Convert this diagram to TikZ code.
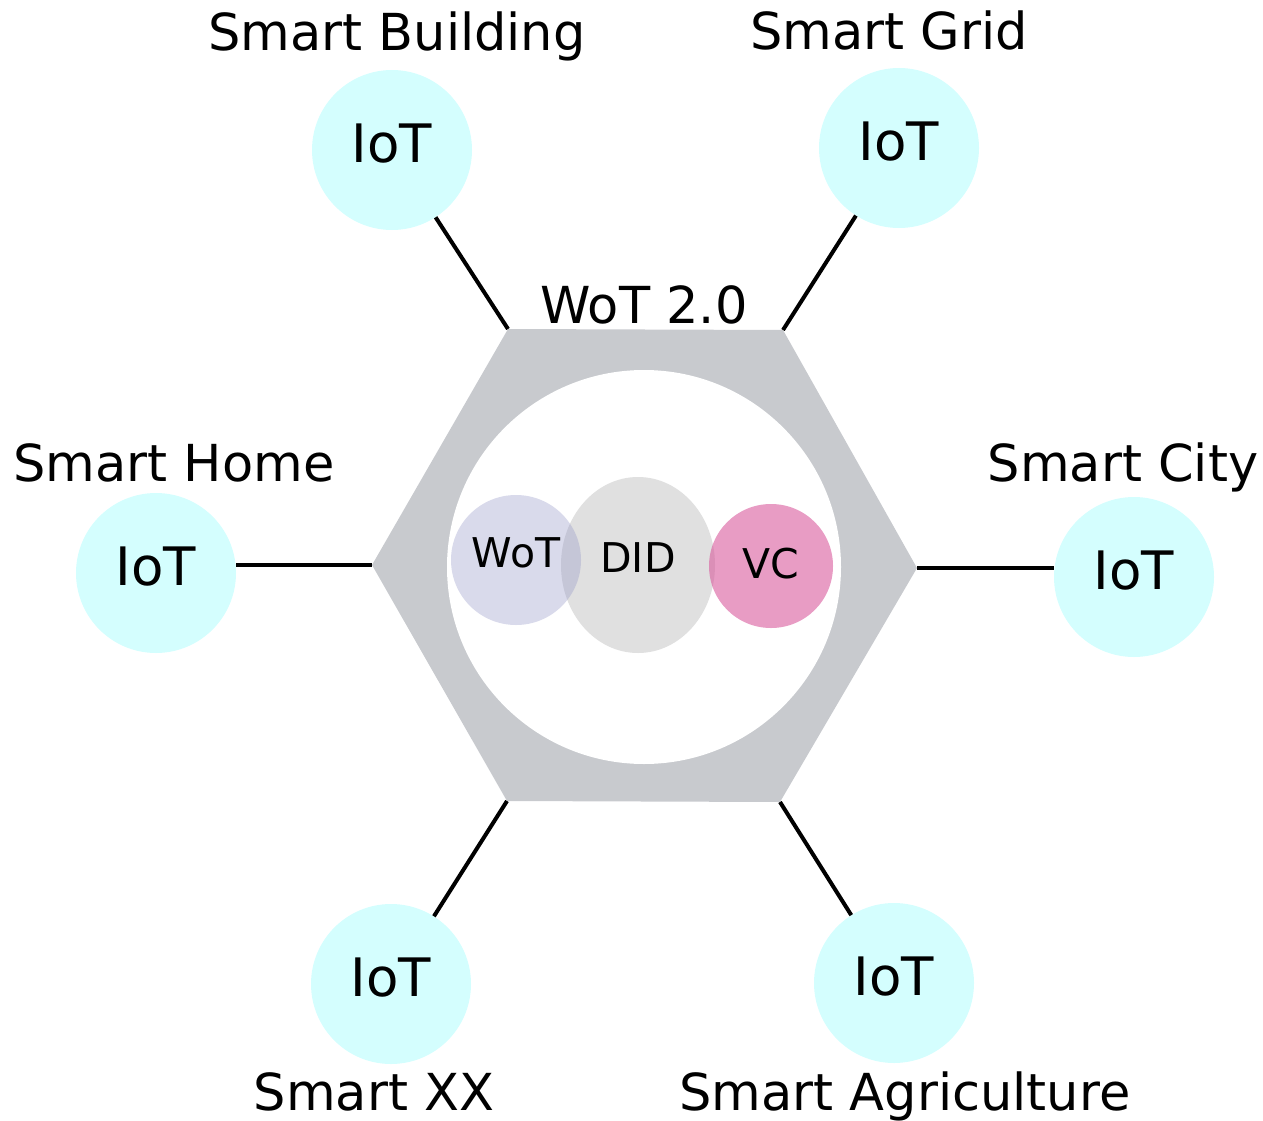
\documentclass[tikz,border=0pt]{standalone}
\usepackage{fontspec}
\setmainfont{DejaVu Sans}
\usetikzlibrary{shapes.geometric}
\definecolor{iotcyan}{RGB}{212,254,254}
\definecolor{hexgray}{RGB}{200,202,206}
\definecolor{wotblue}{RGB}{148,150,200}
\definecolor{didgray}{RGB}{224,224,224}
\definecolor{vcpink}{RGB}{217,90,157}
\begin{document}
\begin{tikzpicture}[x=1pt,y=-1pt,
  iot/.style={circle, fill=iotcyan, minimum size=160pt, inner sep=0pt,
    font=\fontsize{53}{63}\selectfont, text depth=13pt},
  lbl/.style={anchor=base, inner sep=0pt, font=\fontsize{51}{61}\selectfont},
  link/.style={line width=4pt, black},
  inner/.style={inner sep=0pt, font=\fontsize{41}{49}\selectfont, text opacity=1}]
\useasboundingbox (0,0) rectangle (1263,1121);
% hexagon
\coordinate (hv1) at (508,329);
\coordinate (hv2) at (783,330);
\coordinate (hv3) at (917,568);
\coordinate (hv4) at (780,802);
\coordinate (hv5) at (507,801);
\coordinate (hv6) at (372,565);
\fill[hexgray] (hv1) -- (hv2) -- (hv3) -- (hv4) -- (hv5) -- (hv6) -- cycle;
\node[circle, fill=white, minimum size=394pt, inner sep=0pt] (core) at (644,567) {};
\node[lbl] (wot20) at (644,323) {WoT 2.0};
% inner elements
\node[inner, ellipse, fill=didgray, minimum width=154pt, minimum height=176pt, text depth=14pt] (did) at (638,565) {DID};
\node[inner, circle, fill=wotblue, fill opacity=0.35, minimum size=130pt, text depth=14pt] (wot) at (516,560) {WoT};
\node[inner, circle, fill=vcpink, fill opacity=0.6, minimum size=124pt, text depth=6pt] (vc) at (771,566) {VC};
% IoT nodes
\node[iot] (bld) at (392,150) {IoT};
\node[iot] (grid) at (899,148) {IoT};
\node[iot] (home) at (156,573) {IoT};
\node[iot] (city) at (1134,577) {IoT};
\node[iot] (xx) at (391,984) {IoT};
\node[iot] (agri) at (894,983) {IoT};
% labels
\node[lbl] (lbld) at (397,51) {Smart Building};
\node[lbl] (lgrid) at (889,50) {Smart Grid};
\node[lbl] (lhome) at (174,481) {Smart Home};
\node[lbl] (lcity) at (1123,481) {Smart City};
\node[lbl] (lxx) at (374,1110) {Smart XX};
\node[lbl] (lagri) at (905,1110) {Smart Agriculture};
% connectors
\draw[link] (bld) -- (hv1);
\draw[link] (grid) -- (hv2);
\draw[link] (hv6 -| home.east) -- (hv6);
\draw[link] (hv3) -- (hv3 -| city.west);
\draw[link] (xx) -- (hv5);
\draw[link] (agri) -- (hv4);
\end{tikzpicture}
\end{document}
